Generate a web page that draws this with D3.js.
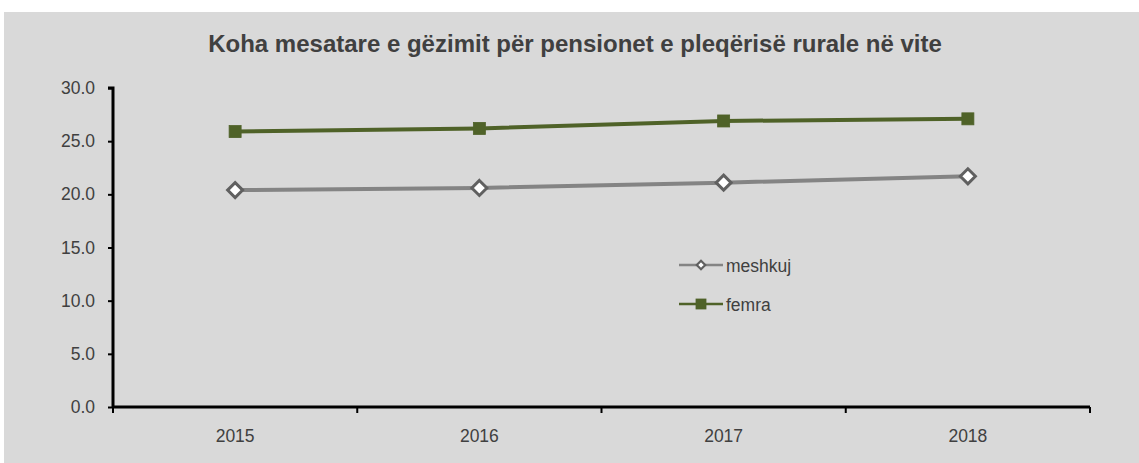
<!DOCTYPE html>
<html>
<head>
<meta charset="utf-8">
<script src="https://cdn.jsdelivr.net/npm/d3@7"></script>
<style>
  body { margin: 0; background: #fff; }
  svg { display: block; font-family: "Liberation Sans", Arial, sans-serif; }
</style>
</head>
<body>
<div id="chart"></div>
<script>
const years = ['2015', '2016', '2017', '2018'];
const meshkuj = [20.4, 20.6, 21.1, 21.7];
const femra = [25.9, 26.2, 26.9, 27.1];
const yTicks = [0, 5, 10, 15, 20, 25, 30];
const title = 'Koha mesatare e gëzimit për pensionet e pleqërisë rurale në vite';

const width = 1139;
const height = 463;
const margin = {left: 113, right: 49, top: 88, bottom: 56};
const labelSize = '17.5px';

const series = [
  {name: 'meshkuj', values: meshkuj, line: '#848484', marker: 'diamond'},
  {name: 'femra', values: femra, line: '#4f6228', marker: 'square'}
];

const svg = d3.select('#chart')
  .append('svg')
  .attr('width', width)
  .attr('height', height);

svg.append('rect')
  .attr('x', 4)
  .attr('y', 12)
  .attr('width', width - 4)
  .attr('height', height - 12)
  .attr('fill', '#d9d9d9');

svg.append('text')
  .attr('x', 575)
  .attr('y', 52)
  .attr('text-anchor', 'middle')
  .attr('font-size', '24px')
  .attr('font-weight', 'bold')
  .attr('fill', '#404040')
  .text(title);

const x = d3.scaleBand()
  .domain(years)
  .range([margin.left, width - margin.right]);

const y = d3.scaleLinear()
  .domain([0, 30])
  .range([height - margin.bottom, margin.top]);

// y axis
const yAxis = svg.append('g')
  .attr('transform', 'translate(' + margin.left + ',0)')
  .call(d3.axisLeft(y).tickValues(yTicks).tickFormat(d3.format('.1f')).tickSize(5).tickPadding(13));

// x axis, ticks on band boundaries
const xAxis = svg.append('g')
  .attr('transform', 'translate(0,' + y(0) + ')')
  .call(d3.axisBottom(x).tickSize(0).tickPadding(23));

xAxis.selectAll('.xb')
  .data(years.concat(['end']))
  .enter()
  .append('line')
  .attr('class', 'xb')
  .attr('x1', function(d, i) { return i < years.length ? x(d) : x.range()[1]; })
  .attr('x2', function(d, i) { return i < years.length ? x(d) : x.range()[1]; })
  .attr('y1', 0)
  .attr('y2', 6)
  .attr('stroke', '#000')
  .attr('stroke-width', 2);

[xAxis, yAxis].forEach(function(a) {
  a.select('.domain').attr('stroke', '#000').attr('stroke-width', 3);
  a.selectAll('.tick line').attr('stroke', '#000').attr('stroke-width', 2);
  a.selectAll('.tick text')
    .attr('font-size', labelSize)
    .attr('fill', '#404040')
    .style('font-family', '"Liberation Sans", Arial, sans-serif');
});
yAxis.select('.domain').attr('d', 'M-5,' + y(30) + 'H0V' + y(0));
xAxis.select('.domain').attr('d', 'M' + x.range()[0] + ',0H' + x.range()[1]);

const line = d3.line()
  .x(function(d, i) { return x(years[i]) + x.bandwidth() / 2; })
  .y(function(d) { return y(d); });

function drawMarker(g, type, cx, cy, s) {
  if (type === 'diamond') {
    g.append('path')
      .attr('d', 'M' + cx + ',' + (cy - s) + 'L' + (cx + s) + ',' + cy + 'L' + cx + ',' + (cy + s) + 'L' + (cx - s) + ',' + cy + 'Z')
      .attr('fill', '#fff')
      .attr('stroke', '#606060')
      .attr('stroke-width', s > 5 ? 3 : 2.2);
  } else {
    g.append('rect')
      .attr('x', cx - s)
      .attr('y', cy - s)
      .attr('width', 2 * s)
      .attr('height', 2 * s)
      .attr('fill', '#4f6228')
      .attr('stroke', '#4f6228')
      .attr('stroke-width', 0.8);
  }
}

series.forEach(function(s) {
  const g = svg.append('g');
  g.append('path')
    .datum(s.values)
    .attr('d', line)
    .attr('fill', 'none')
    .attr('stroke', s.line)
    .attr('stroke-width', 4);
  s.values.forEach(function(v, i) {
    drawMarker(g, s.marker, x(years[i]) + x.bandwidth() / 2, y(v), s.marker === 'diamond' ? 7.5 : 6);
  });
});

// legend
const legend = svg.append('g').attr('transform', 'translate(679,265)');
series.forEach(function(s, i) {
  const g = legend.append('g').attr('transform', 'translate(0,' + i * 39 + ')');
  g.append('line')
    .attr('x1', 0).attr('x2', 44)
    .attr('stroke', s.line)
    .attr('stroke-width', 2.5);
  drawMarker(g, s.marker, 22, 0, s.marker === 'diamond' ? 4.2 : 5);
  g.append('text')
    .attr('x', 47)
    .attr('y', 6.5)
    .attr('font-size', labelSize)
    .attr('fill', '#404040')
    .text(s.name);
});
</script>
</body>
</html>
